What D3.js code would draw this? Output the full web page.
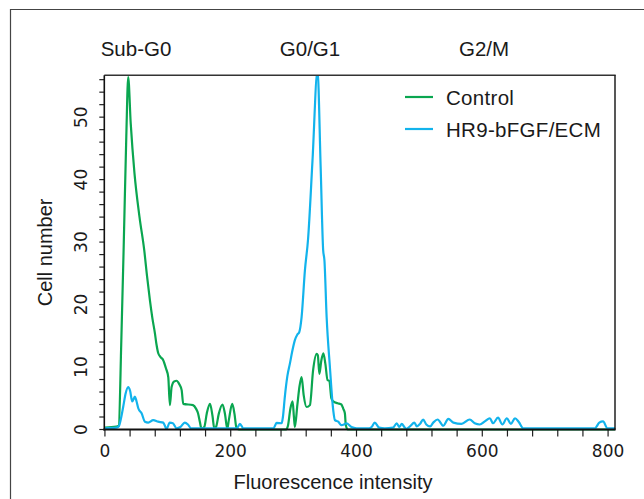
<!DOCTYPE html>
<html>
<head>
<meta charset="utf-8">
<script src="https://cdn.jsdelivr.net/npm/d3@7"></script>
<style>
  html, body { margin: 0; padding: 0; background: #fff; }
  svg { display: block; }
  text { font-family: Arial, 'Liberation Sans', sans-serif; fill: #1a1a1a; }
  .num { font-family: 'DejaVu Sans', sans-serif; font-size: 17px; }
</style>
</head>
<body>
<svg id="chart" width="644" height="499"></svg>
<script>
// Control histogram: [fluorescence, cell number]
const controlData = [
  [0, 0.3], [18, 0.45], [22, 0.6], [26, 14], [30, 30], [34, 47], [37, 56.4], [41, 49],
  [47, 41], [55, 34], [62.5, 28.7], [67, 24.5], [71.5, 20.7], [75.5, 17.8], [79.5, 15.4],
  [82, 13.6], [84.8, 12.2], [88.5, 11.6], [92.7, 11.1], [97, 9.8], [100.7, 8.4], [103.3, 3.9],
  [106, 6.8], [110, 7.7], [114, 7.8], [118, 7.3], [122, 6.3], [124.5, 4.1], [140, 3.9],
  [145, 3.3], [148, 2.6], [151, 1.2], [153.6, 0.1], [158, 0.4], [162, 2.6], [167, 4.1],
  [171, 2.2], [174, 0.1], [177, 0.5], [181, 2.5], [187, 4.0], [191, 2.4], [194.5, 0.1],
  [197, 1.5], [202.4, 4.1], [206, 2.5], [209, 0.3], [213, 0], [288, 0], [291, 0.6],
  [295, 3.4], [298.4, 4.5], [300.5, 2.0], [302, 0.4], [306, 4.0], [309.5, 7.0], [312.7, 8.4],
  [316, 5.5], [320.6, 3.6], [325.9, 3.9], [331, 9.5], [336.6, 12.1], [338.5, 11.9],
  [340.9, 8.9], [344, 11.0], [347.3, 12.2], [350.5, 10.5], [354, 7.9], [356.8, 7.8],
  [360, 5.0], [363, 4.5], [370, 4.2], [376, 4.0], [379, 3.3], [381.5, 2.6], [383, 0.7],
  [386, 0], [811, 0]
];

// HR9-bFGF/ECM histogram
const hr9Data = [
  [0, 0.2], [18, 0.3], [22, 0.5], [26, 2], [29, 3.6], [33, 5.8], [37, 6.8], [40, 6.2],
  [43.4, 4.5], [47.7, 5.25], [50, 4.6], [53, 3.4], [58.3, 2.6], [63.6, 1.25], [68.9, 1.1],
  [76.8, 1.5], [84.7, 1.25], [92.7, 1.1], [98, 0.1], [103, 1.1], [108, 1.0], [114, 0.2],
  [120, 0.4], [127, 1.1], [132, 0.8], [137, 0.2], [210, 0.2], [214.6, 0.9], [220, 0.2],
  [268, 0.2], [273, 1.05], [281, 1.0], [283, 2.0], [286, 5.2], [290, 8.5], [294, 10.5],
  [298, 12.6], [302, 14.3], [306, 15.2], [309, 15.6], [312.7, 18], [318, 25.5], [323, 30.5],
  [330, 43], [338, 57.5], [343, 42], [347, 28.7], [349, 27.1], [352.5, 18], [357.7, 10],
  [363, 3.1], [365.7, 1.5], [371, 1.25], [376, 0.7], [380, 0.8], [384, 1.0], [392, 0.4],
  [400, 0.2], [420, 0.2], [424, 0.4], [429, 1.1], [436, 0.3], [445, 0.2], [458, 0.3],
  [464, 1.0], [468, 0.4], [472, 0.9], [476, 0.4], [479, 0.1], [485, 0.5], [492, 1.1],
  [496, 0.5], [501, 0.9], [506, 1.6], [511, 0.8], [517, 0.5], [522, 1.1], [529, 1.6],
  [538, 0.6], [546, 1.7], [554, 1.1], [567, 0.9], [580, 1.6], [588, 1.0], [596, 0.8],
  [604, 1.3], [612, 1.8], [617, 1.0], [625, 1.9], [632, 0.8], [639, 1.8], [645.5, 0.9],
  [652, 1.8], [658, 1.2], [665, 0.2], [779, 0.2], [786, 1.1], [792, 1.3], [799, 0.2],
  [811, 0.2]
];

const seriesNames = ['Control', 'HR9-bFGF/ECM'];
const seriesColors = ['#0aa650', '#12b3ec'];
const phaseLabels = [
  { label: 'Sub-G0', x: 136 },
  { label: 'G0/G1', x: 310 },
  { label: 'G2/M', x: 484 }
];
const xLabelTicks = [0, 200, 400, 600, 800];
const yLabelTicks = [0, 10, 20, 30, 40, 50];

const svg = d3.select('#chart');
const m = { left: 104.3, right: 615, top: 75.3, bottom: 429.5 };

const x = d3.scaleLinear().domain([-1, 811]).range([m.left, m.right]);
const y = d3.scaleLinear().domain([0, 56.7]).range([m.bottom, m.top]);

// outer panel frame
svg.append('path')
  .attr('d', 'M10.5,499 V9.5 H644')
  .attr('fill', 'none')
  .attr('stroke', '#444')
  .attr('stroke-width', 1.2);

// clip for the curves
svg.append('clipPath').attr('id', 'plotclip')
  .append('rect')
  .attr('x', m.left).attr('y', m.top)
  .attr('width', m.right - m.left).attr('height', m.bottom - m.top + 4);

const line = d3.line()
  .x((d) => x(d[0]))
  .y((d) => y(d[1]))
  .curve(d3.curveMonotoneX);

const plot = svg.append('g').attr('clip-path', 'url(#plotclip)');
[controlData, hr9Data].forEach((data, i) => {
  plot.append('path')
    .attr('d', line(data))
    .attr('fill', 'none')
    .attr('stroke', seriesColors[i])
    .attr('stroke-width', 2.2)
    .attr('stroke-linejoin', 'round');
});

// top and right frame of the plot
svg.append('line')
  .attr('x1', m.left).attr('x2', m.right + 0.7).attr('y1', m.top).attr('y2', m.top)
  .attr('stroke', '#333').attr('stroke-width', 1.4);
svg.append('line')
  .attr('x1', m.right).attr('x2', m.right).attr('y1', m.top).attr('y2', m.bottom)
  .attr('stroke', '#111').attr('stroke-width', 1.4);

// x axis
const xAxis = svg.append('g').attr('transform', `translate(0,${m.bottom})`);
xAxis.selectAll('line.tick')
  .data(d3.range(0, 801, 40))
  .join('line')
  .attr('class', 'tick')
  .attr('x1', (d) => x(d)).attr('x2', (d) => x(d))
  .attr('y1', 0).attr('y2', 7)
  .attr('stroke', '#222').attr('stroke-width', 1.2);
xAxis.append('line')
  .attr('x1', m.left - 1).attr('x2', m.right + 0.7)
  .attr('stroke', '#111').attr('stroke-width', 2.2);
xAxis.selectAll('text')
  .data(xLabelTicks)
  .join('text')
  .attr('class', 'num')
  .attr('x', (d) => x(d))
  .attr('y', 27.5)
  .attr('text-anchor', 'middle')
  .text((d) => d);

// y axis
const yAxis = svg.append('g').attr('transform', `translate(${m.left},0)`);
yAxis.selectAll('line.tick')
  .data(d3.range(0, 57, 2))
  .join('line')
  .attr('class', 'tick')
  .attr('x1', 0).attr('x2', -5)
  .attr('y1', (d) => y(d)).attr('y2', (d) => y(d))
  .attr('stroke', '#222').attr('stroke-width', 1.2);
yAxis.append('line')
  .attr('y1', m.top).attr('y2', m.bottom + 1)
  .attr('stroke', '#111').attr('stroke-width', 1.6);
yAxis.selectAll('text')
  .data(yLabelTicks)
  .join('text')
  .attr('class', 'num')
  .attr('transform', (d) => `translate(-17.5,${y(d)}) rotate(-90)`)
  .attr('text-anchor', 'middle')
  .text((d) => d);

// axis titles
svg.append('text')
  .attr('x', 333).attr('y', 488.5)
  .attr('text-anchor', 'middle')
  .style('font-size', '20px')
  .text('Fluorescence intensity');
svg.append('text')
  .attr('transform', `translate(52,${(m.top + m.bottom) / 2}) rotate(-90)`)
  .attr('text-anchor', 'middle')
  .style('font-size', '20px')
  .text('Cell number');

// phase labels
svg.selectAll('text.phase')
  .data(phaseLabels)
  .join('text')
  .attr('class', 'phase')
  .attr('x', (d) => d.x).attr('y', 56)
  .attr('text-anchor', 'middle')
  .style('font-size', '20.5px')
  .text((d) => d.label);

// legend
const legend = svg.append('g');
seriesNames.forEach((name, i) => {
  const ly = 97 + i * 32;
  legend.append('line')
    .attr('x1', 405).attr('x2', 433)
    .attr('y1', ly).attr('y2', ly)
    .attr('stroke', seriesColors[i]).attr('stroke-width', 2.2);
  legend.append('text')
    .attr('x', 446).attr('y', ly + 8)
    .style('font-size', '20.5px')
    .style('letter-spacing', '0.3px')
    .text(name);
});
</script>
</body>
</html>
